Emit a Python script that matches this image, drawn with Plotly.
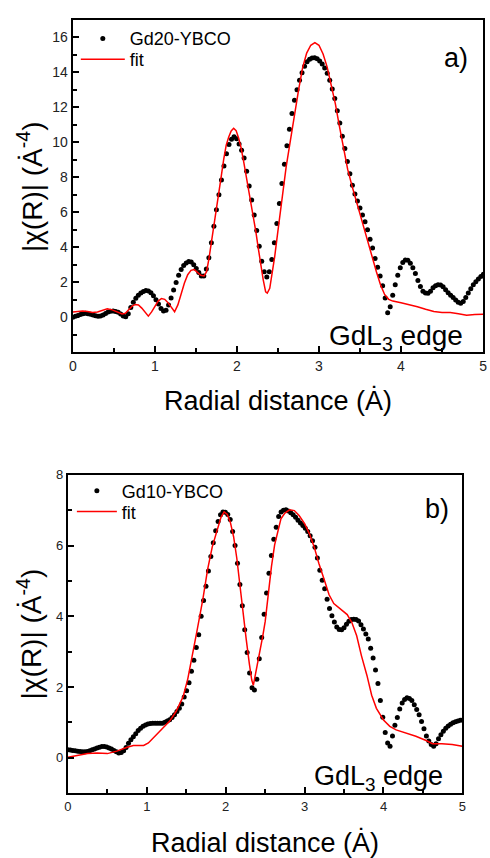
import plotly.graph_objects as go

# ---------------- data ----------------
R_STEP = 0.0307  # sampling step of the measured |chi(R)| points (Angstrom)

gd20_data = [
    0.00, 0.05, 0.10, 0.16, 0.20, 0.22, 0.20, 0.17, 0.13, 0.08,
    0.05, 0.07, 0.13, 0.21, 0.29, 0.34, 0.35, 0.33, 0.28, 0.18,
    0.07, 0.03, 0.20, 0.55, 0.85, 1.08, 1.25, 1.38, 1.47, 1.52,
    1.50, 1.40, 1.22, 1.00, 0.75, 0.50, 0.36, 0.40, 0.70, 1.10,
    1.55, 1.98, 2.40, 2.72, 2.95, 3.10, 3.18, 3.15, 3.00, 2.78,
    2.55, 2.35, 2.35, 2.75, 3.40, 4.25, 5.20, 6.15, 7.00, 7.85,
    8.65, 9.35, 9.88, 10.18, 10.32, 10.20, 9.90, 9.55, 9.10, 8.35,
    7.50, 6.70, 5.85, 4.95, 4.05, 3.20, 2.60, 2.30, 2.60, 3.30,
    4.25, 5.35, 6.50, 7.65, 8.75, 9.80, 10.75, 11.65, 12.40, 13.00,
    13.55, 13.98, 14.35, 14.60, 14.75, 14.82, 14.83, 14.78, 14.65, 14.48,
    14.25, 13.95, 13.55, 13.05, 12.50, 11.80, 11.10, 10.35, 9.65, 8.90,
    8.20, 7.55, 7.05, 6.65, 6.25, 5.85, 5.45, 5.00, 4.45, 3.95,
    3.35, 2.85, 2.35, 1.80, 1.10, 0.25, 0.60, 1.25, 1.85, 2.40,
    2.82, 3.12, 3.27, 3.25, 3.08, 2.82, 2.50, 2.10, 1.75, 1.48,
    1.38, 1.37, 1.48, 1.68, 1.80, 1.86, 1.84, 1.74, 1.57, 1.40,
    1.25, 1.12, 0.98, 0.86, 0.80, 0.90, 1.12, 1.38, 1.62, 1.85,
    2.03, 2.18, 2.32, 2.45,
]

gd20_fit_r = [
    0.00, 0.06, 0.12, 0.18, 0.24, 0.30, 0.36, 0.42, 0.48, 0.54,
    0.60, 0.64, 0.68, 0.72, 0.76, 0.80, 0.84, 0.88, 0.92, 0.96,
    1.00, 1.04, 1.08, 1.12, 1.16, 1.20, 1.24, 1.28, 1.32, 1.36,
    1.40, 1.44, 1.48, 1.52, 1.56, 1.60, 1.63, 1.66, 1.69, 1.72,
    1.75, 1.78, 1.81, 1.84, 1.87, 1.90, 1.93, 1.96, 1.99, 2.02,
    2.05, 2.08, 2.11, 2.14, 2.17, 2.20, 2.23, 2.26, 2.29, 2.32,
    2.35, 2.37, 2.40, 2.43, 2.46, 2.50, 2.55, 2.60, 2.65, 2.70,
    2.75, 2.80, 2.85, 2.90, 2.95, 3.00, 3.05, 3.10, 3.15, 3.20,
    3.25, 3.30, 3.35, 3.40, 3.45, 3.50, 3.55, 3.60, 3.65, 3.70,
    3.75, 3.80, 3.85, 3.90, 4.00, 4.10, 4.20, 4.30, 4.40, 4.50,
    4.60, 4.70, 4.80, 4.90, 5.00,
]
gd20_fit = [
    0.30, 0.33, 0.35, 0.33, 0.27, 0.30, 0.40, 0.48, 0.42, 0.32,
    0.18, 0.22, 0.42, 0.62, 0.73, 0.70, 0.52, 0.28, 0.06, 0.30,
    0.62, 0.92, 1.07, 1.02, 0.83, 0.55, 0.31, 0.70, 1.35, 1.95,
    2.43, 2.68, 2.72, 2.58, 2.40, 2.36, 2.60, 3.38, 4.30, 5.09,
    6.05, 7.07, 8.10, 9.06, 9.85, 10.30, 10.65, 10.80, 10.67, 10.25,
    9.70, 8.95, 8.15, 7.40, 6.60, 5.95, 4.90, 3.95, 3.00, 2.15,
    1.45, 1.38, 1.65, 2.45, 3.45, 4.95, 6.90, 8.60, 10.05, 11.55,
    12.95, 14.25, 15.10, 15.55, 15.70, 15.55, 15.05, 14.30, 13.30, 12.20,
    10.90, 9.55, 8.45, 7.55, 6.70, 5.85, 5.00, 4.20, 3.40, 2.60,
    1.85, 1.30, 1.02, 0.92, 0.82, 0.72, 0.60, 0.45, 0.32, 0.27,
    0.27, 0.20, 0.11, 0.15, 0.17,
]

gd10_data = [
    0.23, 0.22, 0.21, 0.20, 0.19, 0.18, 0.17, 0.17, 0.18, 0.20,
    0.23, 0.25, 0.28, 0.30, 0.32, 0.32, 0.31, 0.28, 0.25, 0.21,
    0.17, 0.14, 0.15, 0.20, 0.29, 0.41, 0.51, 0.60, 0.68, 0.77,
    0.84, 0.89, 0.93, 0.96, 0.97, 0.98, 0.98, 0.98, 0.98, 0.98,
    1.01, 1.04, 1.08, 1.14, 1.22, 1.31, 1.40, 1.52, 1.72, 1.90,
    2.12, 2.45, 2.76, 3.12, 3.48, 4.00, 4.45, 4.85, 5.28, 5.69,
    6.08, 6.42, 6.68, 6.87, 6.95, 6.94, 6.88, 6.74, 6.40, 6.00,
    5.50, 4.90, 4.30, 3.62, 2.98, 2.40, 1.98, 1.92, 2.22, 2.80,
    3.40, 4.06, 4.66, 5.22, 5.72, 6.18, 6.52, 6.82, 6.95, 7.00,
    7.01, 6.98, 6.93, 6.87, 6.80, 6.72, 6.64, 6.57, 6.49, 6.40,
    6.28, 6.14, 5.95, 5.65, 5.30, 5.02, 4.78, 4.48, 4.22, 4.02,
    3.84, 3.70, 3.63, 3.62, 3.68, 3.78, 3.86, 3.91, 3.92, 3.91,
    3.87, 3.76, 3.64, 3.50, 3.36, 3.10, 2.82, 2.48, 2.10, 1.62,
    1.15, 0.72, 0.42, 0.33, 0.62, 0.92, 1.14, 1.38, 1.55, 1.65,
    1.70, 1.68, 1.62, 1.50, 1.37, 1.22, 1.03, 0.82, 0.62, 0.48,
    0.38, 0.33, 0.40, 0.54, 0.65, 0.75, 0.84, 0.90, 0.95, 0.99,
    1.02, 1.04, 1.06, 1.07,
]

gd10_fit_r = [
    0.00, 0.125, 0.25, 0.37, 0.50, 0.62, 0.70, 0.75, 0.83, 0.96,
    1.02, 1.10, 1.21, 1.29, 1.37, 1.46, 1.52, 1.58, 1.64, 1.71,
    1.77, 1.83, 1.89, 1.94, 1.98, 2.02, 2.06, 2.10, 2.14, 2.18,
    2.22, 2.26, 2.30, 2.33, 2.35, 2.39, 2.43, 2.47, 2.50, 2.54,
    2.58, 2.62, 2.66, 2.70, 2.75, 2.81, 2.87, 2.93, 3.00, 3.06,
    3.12, 3.18, 3.25, 3.31, 3.37, 3.45, 3.54, 3.60, 3.66, 3.72,
    3.79, 3.85, 3.91, 4.00, 4.08, 4.16, 4.29, 4.41, 4.54, 4.62,
    4.74, 4.87, 5.00,
]
gd10_fit = [
    0.02, 0.08, 0.12, 0.14, 0.12, 0.19, 0.26, 0.30, 0.35, 0.35,
    0.42, 0.60, 0.84, 1.04, 1.31, 1.73, 2.24, 2.89, 3.64, 4.48,
    5.32, 5.97, 6.43, 6.80, 6.95, 6.88, 6.65, 6.25, 5.65, 4.85,
    4.05, 3.35, 2.65, 2.20, 2.05, 2.50, 3.00, 3.45, 3.85, 4.66,
    5.41, 6.02, 6.43, 6.76, 6.92, 7.01, 6.99, 6.85, 6.62, 6.34,
    5.97, 5.50, 5.03, 4.61, 4.36, 4.21, 4.05, 3.82, 3.45, 2.89,
    2.33, 1.77, 1.40, 1.07, 0.89, 0.79, 0.70, 0.61, 0.49, 0.40,
    0.40, 0.38, 0.33,
]

x_ticks = [0, 1, 2, 3, 4, 5]
x_minor = [0.5, 1.5, 2.5, 3.5, 4.5]
a_yticks = [0, 2, 4, 6, 8, 10, 12, 14, 16]
a_yminor = [-1, 1, 3, 5, 7, 9, 11, 13, 15]
b_yticks = [0, 2, 4, 6, 8]
b_yminor = [-1, 1, 3, 5, 7]

# ---------------- figure ----------------
W, H = 490, 858
FONT = "Liberation Sans, Arial, sans-serif"


def fx(p):
    return p / W


def fy(p):
    return 1 - p / H


r_a = [round(i * R_STEP, 4) for i in range(len(gd20_data))]
r_b = [round(i * R_STEP, 4) for i in range(len(gd10_data))]

fig = go.Figure()
fig.add_trace(go.Scatter(x=r_a, y=gd20_data, mode="markers", name="Gd20-YBCO",
                         marker=dict(color="black", size=5), xaxis="x", yaxis="y",
                         legend="legend"))
fig.add_trace(go.Scatter(x=gd20_fit_r, y=gd20_fit, mode="lines", name="fit",
                         line=dict(color="#ff0000", width=1.5), xaxis="x", yaxis="y",
                         legend="legend2"))
fig.add_trace(go.Scatter(x=r_b, y=gd10_data, mode="markers", name="Gd10-YBCO",
                         marker=dict(color="black", size=5), xaxis="x2", yaxis="y2",
                         legend="legend3"))
fig.add_trace(go.Scatter(x=gd10_fit_r, y=gd10_fit, mode="lines", name="fit",
                         line=dict(color="#ff0000", width=1.5), xaxis="x2", yaxis="y2",
                         legend="legend4"))

axis_common = dict(showline=True, linecolor="black", linewidth=2.4, mirror=True,
                   ticks="inside", ticklen=6, tickwidth=1.5, tickcolor="black",
                   showgrid=False, zeroline=False)


def xax(domain, anchor, fs):
    return dict(domain=domain, anchor=anchor, range=[0, 5], tickmode="array",
                tickvals=x_ticks, ticktext=[str(v) for v in x_ticks],
                tickfont=dict(family=FONT, size=fs, color="#222"),
                minor=dict(tickmode="array", tickvals=x_minor, ticks="inside",
                           ticklen=4, tickwidth=1.5, tickcolor="black", showgrid=False),
                **axis_common)


def yax(domain, anchor, rng, ticks, minor, fs):
    return dict(domain=domain, anchor=anchor, range=rng, tickmode="array",
                tickvals=ticks, ticktext=[str(v) for v in ticks],
                tickfont=dict(family=FONT, size=fs, color="#222"),
                minor=dict(tickmode="array", tickvals=minor, ticks="inside",
                           ticklen=4, tickwidth=1.5, tickcolor="black", showgrid=False),
                **axis_common)


def leg(x0, yc, iw):
    return dict(x=fx(x0), y=fy(yc), xanchor="left", yanchor="middle",
                bgcolor="rgba(0,0,0,0)", itemwidth=iw, borderwidth=0,
                font=dict(family=FONT, size=18, color="black"))


fig.update_layout(
    width=W, height=H, margin=dict(l=0, r=0, t=0, b=0),
    paper_bgcolor="white", plot_bgcolor="white",
    font=dict(family=FONT, color="black"),
    xaxis=xax([fx(70), fx(487)], "y", 14),
    yaxis=yax([fy(348), fy(13)], "x", [-2, 17], a_yticks, a_yminor, 14),
    xaxis2=xax([fx(65), fx(466)], "y2", 13),
    yaxis2=yax([fy(792.7), fy(471.7)], "x2", [-1, 8], b_yticks, b_yminor, 13),
    legend=leg(73, 32, 44),
    legend2=leg(73, 53, 44),
    legend3=leg(69, 488, 40),
    legend4=leg(69, 509, 40),
    showlegend=True,
)

ytitle = "|χ(R)| (Ȧ<sup>-4</sup>)"
xtitle = "Radial distance (Ȧ)"
ann = [
    dict(text=ytitle, x=fx(26), y=fy(181), textangle=-90, font=dict(size=28)),
    dict(text=ytitle, x=fx(26), y=fy(632), textangle=-90, font=dict(size=28)),
    dict(text=xtitle, x=fx(278.5), y=fy(397), font=dict(size=27)),
    dict(text=xtitle, x=fx(265), y=fy(842), font=dict(size=27)),
    dict(text="a)", x=fx(460), y=fy(51), font=dict(size=27)),
    dict(text="b)", x=fx(440), y=fy(506), font=dict(size=27)),
    dict(text="GdL<sub>3</sub> edge", x=fx(399), y=fy(333), font=dict(size=28)),
    dict(text="GdL<sub>3</sub> edge", x=fx(381), y=fy(777), font=dict(size=27)),
]
for a in ann:
    a.update(xref="paper", yref="paper", showarrow=False, xanchor="center",
             yanchor="middle")
    a["font"].update(family=FONT, color="black")
fig.update_layout(annotations=ann)

fig.write_html("out.html")
